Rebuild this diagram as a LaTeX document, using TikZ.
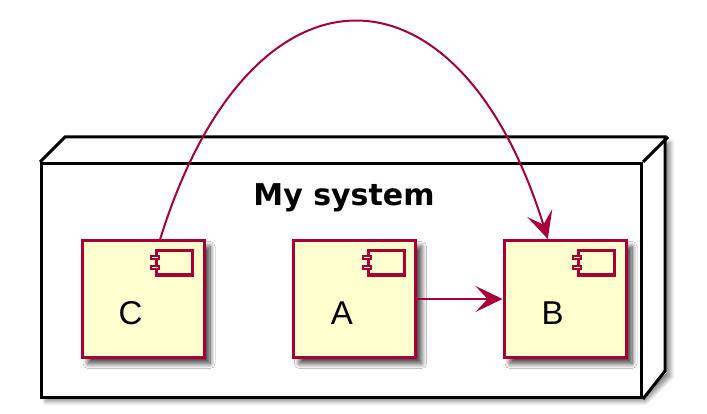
\documentclass[tikz,border=0pt]{standalone}
\usepackage{fontspec}
\setmainfont{Liberation Sans}
\newfontfamily\titlefont{DejaVu Sans}
\usetikzlibrary{arrows.meta,shadows.blur}
\definecolor{umlred}{HTML}{A80036}
\definecolor{umlfill}{HTML}{FEFECE}
\tikzset{umlshadow/.style={blur shadow={shadow xshift=6pt, shadow yshift=-6pt,
        shadow blur radius=5pt, shadow blur steps=10, shadow opacity=75}},
    nodeshadow/.style={blur shadow={shadow xshift=4pt, shadow yshift=-4pt,
        shadow blur radius=4pt, shadow blur steps=8, shadow opacity=45}},
    nodebox/.style={draw=black, line width=3pt, line join=miter},
    titletext/.style={font=\titlefont\bfseries\fontsize{30}{34}\selectfont, anchor=base},
    comp/.style={draw=umlred, fill=umlfill, line width=3pt, inner sep=0pt,
        minimum width=122pt, minimum height=117pt, umlshadow},
    complabel/.style={font=\fontsize{33}{36}\selectfont, xshift=-12.5pt, yshift=-14.5pt},
    compicon/.style={draw=umlred, fill=umlfill, line width=3pt},
    comptab/.style={draw=umlred, fill=umlfill, line width=2pt},
    link/.style={draw=umlred, line width=2pt,
        -{Stealth[length=27pt, width=26pt, inset=12pt]}},
    }
% component icon in the upper right corner
\newcommand\drawicon[1]{%
  \draw[compicon] ([xshift=-13pt, yshift=-12pt]#1.north east) rectangle ++(-36,24);
  \draw[comptab] ([xshift=-54.5pt, yshift=-17.5pt]#1.north east) rectangle ++(8,3);
  \draw[comptab] ([xshift=-54.5pt, yshift=-27.5pt]#1.north east) rectangle ++(8,3);
}

\begin{document}
\begin{tikzpicture}[x=1pt, y=-1pt]
\useasboundingbox (0,0) rectangle (707,414);
% node "My system"
\fill[white, nodeshadow] (41.5,397.5) -- (41.5,163.5) -- (66.5,138.5)
  -- (666.5,138.5) -- (666.5,372.5) -- (641.5,397.5) -- cycle;
\node[nodebox, minimum width=600pt, minimum height=234pt] (sys) at (341.5,280.5) {};
\draw[nodebox] (sys.north west) -- ++(25,-25) -- ++(600,0) -- ++(0,234) -- (sys.south east);
\draw[nodebox] (sys.north east) -- ++(25,-25);
\node[titletext] (title) at (344,206) {My system};
% components
\node[comp, label={[complabel]center:C}] (C) at (143,299) {};
\node[comp, label={[complabel]center:A}] (A) at (354.5,299) {};
\node[comp, label={[complabel]center:B}] (B) at (565,299) {};
\foreach \c in {C,A,B} {\drawicon{\c}}
% links
\draw[link] (A) -- (B);
\draw[link] (C.74) .. controls (250,-50) and (458,-50) .. (B.106);
\end{tikzpicture}
\end{document}
